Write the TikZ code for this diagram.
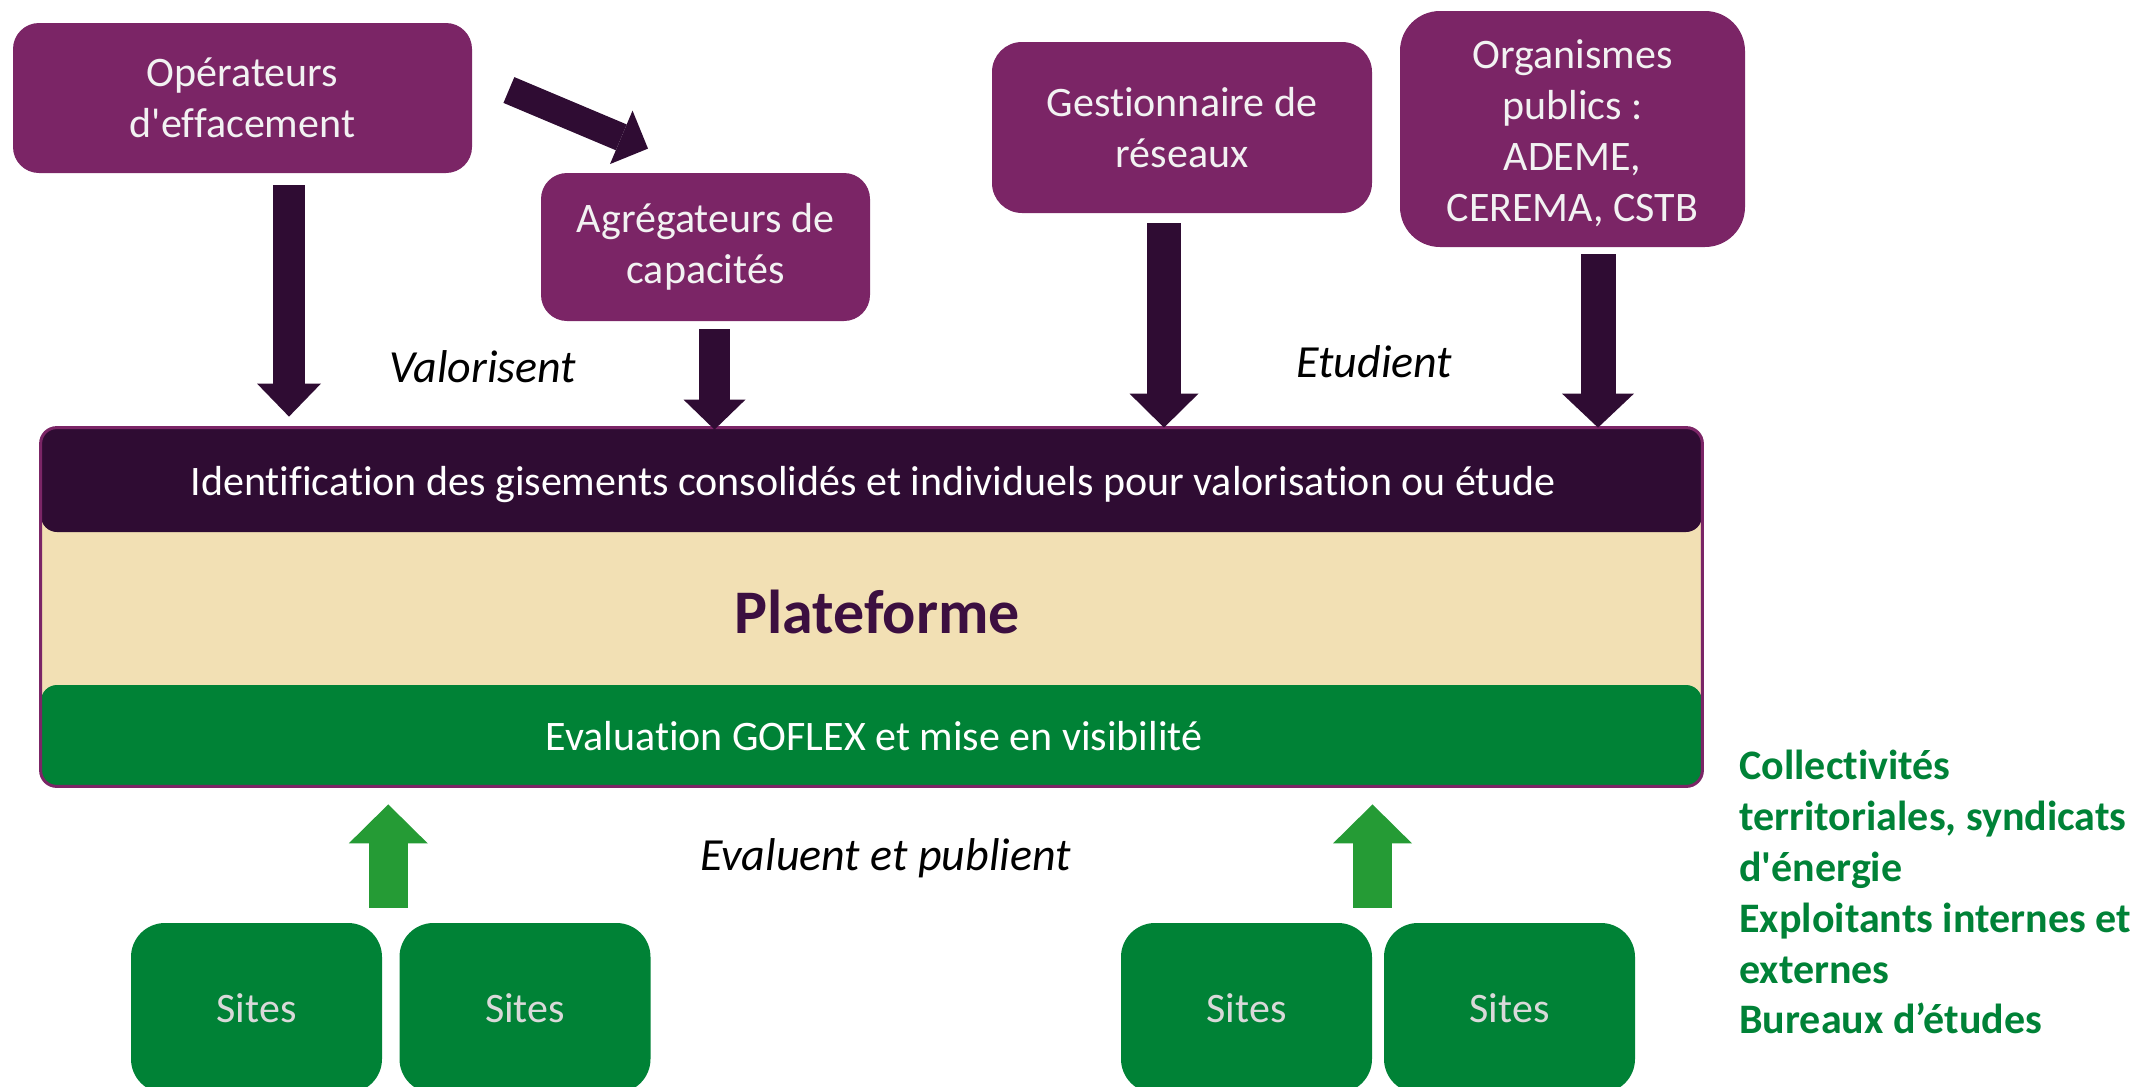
\documentclass[tikz,border=0pt]{standalone}
\usepackage{fontspec}
\newfontfamily\calib{Carlito}[Ligatures=NoCommon]
\usetikzlibrary{arrows.meta,calc}
\definecolor{plum}{RGB}{123,37,102}
\definecolor{darkp}{RGB}{47,12,51}
\definecolor{beige}{RGB}{242,224,180}
\definecolor{gbar}{RGB}{0,130,54}
\definecolor{garr}{RGB}{37,155,53}
\definecolor{gtext}{RGB}{0,130,55}
\definecolor{platc}{RGB}{60,15,64}
\definecolor{boxtext}{RGB}{242,242,242}
\definecolor{sitetext}{RGB}{217,217,217}
\begin{document}
\begin{tikzpicture}[x=0.5pt,y=-0.5pt,
  every node/.style={font=\calib},
  actor/.style={fill=plum, rounded corners=13pt, text=boxtext, align=center, inner sep=0pt,
    font=\calib\fontsize{21pt}{25.5pt}\selectfont},
  site/.style={fill=gbar, rounded corners=17pt, text=sitetext, minimum width=125.5pt,
    minimum height=85pt, inner sep=0pt, font=\calib\fontsize{21pt}{25.5pt}\selectfont},
  barbox/.style={rounded corners=8pt, minimum width=830.5pt, inner sep=0pt},
  bartext/.style={text=white, inner sep=0pt, anchor=base, font=\calib\fontsize{21pt}{25.5pt}\selectfont},
  verb/.style={inner sep=0pt, anchor=base, text=black, font=\calib\itshape\fontsize{23pt}{28pt}\selectfont},
  greenlist/.style={inner sep=0pt, anchor=base west, text=gtext, font=\calib\bfseries\fontsize{21pt}{25.5pt}\selectfont},
  darr/.style={draw=darkp, line width=16pt, -{Triangle[length=16.5pt,width=32pt,line width=0pt]}},
  garrow/.style={draw=garr, line width=19.5pt, -{Triangle[length=19.5pt,width=39.5pt,line width=0pt]}}
]
\useasboundingbox (0,0) rectangle (2144,1087);

% platform
\node[barbox, fill=beige, minimum height=179pt] (plat) at (871.5,607) {};
\node[barbox, fill=darkp, minimum height=52pt] (ident) at (871.5,480) {};
\node[barbox, fill=gbar, minimum height=50.5pt] (eval) at (871.5,735.5) {};
\draw[plum, line width=1.5pt, rounded corners=8pt] (plat.north west) rectangle (plat.south east);
\node[bartext] (identt) at (873,495) {Identification des gisements consolidés et individuels pour valorisation ou étude};
\node[inner sep=0pt, anchor=base, text=platc, font=\calib\bfseries\fontsize{31pt}{37pt}\selectfont] (platt) at (877,633) {Plateforme};
\node[bartext] (evalt) at (874,750) {Evaluation GOFLEX et mise en visibilité};

% actors
\node[actor, minimum width=229.5pt, minimum height=75pt] (op) at (242.5,98) {Opérateurs\\d'effacement};
\node[actor, minimum width=164.5pt, minimum height=74pt] (ag) at (705.5,247) {Agrégateurs de\\capacités};
\node[actor, minimum width=190pt, minimum height=85.5pt, rounded corners=15pt] (ge) at (1182,127.5) {Gestionnaire de\\réseaux};
\node[actor, minimum width=172.5pt, minimum height=118pt, rounded corners=20pt] (org) at (1572.5,129) {\rule{0pt}{18.5pt}Organismes\\publics :\\ADEME,\\CEREMA, CSTB};

% sites
\node[site] (s1) at (256.5,1008) {Sites};
\node[site] (s2) at (525,1008) {Sites};
\node[site] (s3) at (1246.5,1008) {Sites};
\node[site] (s4) at (1509.5,1008) {Sites};

% labels
\node[verb] (valo) at (483,382) {Valorisent};
\node[verb] (etud) at (1374.5,377) {Etudient};
\node[verb] (evpu) at (885.5,870) {Evaluent et publient};

% green list
\node[greenlist] (r1) at (1739,779) {Collectivités};
\node[greenlist] (r2) at (1739,830) {territoriales, syndicats};
\node[greenlist] (r3) at (1739,881) {d'énergie};
\node[greenlist] (r4) at (1739,932) {Exploitants internes et};
\node[greenlist] (r5) at (1739,983) {externes};
\node[greenlist] (r6) at (1739,1033) {Bureaux d’études};

% arrows down
\draw[darr] ($(op.south)+(46.5,12)$) coordinate (a1) -- ($(a1 |- ident.north)+(0,-11)$);
\draw[darr, line width=15.5pt, -{Triangle[length=15pt,width=31pt,line width=0pt]}] ($(ag.south)+(9,8)$) coordinate (a2) -- ($(a2 |- ident.north)+(0,2)$);
\draw[darr, line width=17pt, -{Triangle[length=17pt,width=34.5pt,line width=0pt]}] ($(ge.south)+(-18,10)$) coordinate (a3) -- (a3 |- ident.north);
\draw[darr, line width=17.5pt, -{Triangle[length=17pt,width=36pt,line width=0pt]}] ($(org.south)+(25.5,7)$) coordinate (a4) -- (a4 |- ident.north);
% diagonal arrow
\draw[darr, line width=14pt, -{Triangle[length=14.5pt,width=29pt,line width=0pt]}] ($(op.east)+(36.5,-8)$) -- ($(ag.north)+(-57.5,-24)$);

% arrows up
\draw[garrow] ($(s1.north east)!0.5!(s2.north west)+(-2.5,-15)$) coordinate (g1) -- ($(g1 |- eval.south)+(0,18)$);
\draw[garrow] ($(s3.north east)!0.5!(s4.north west)+(-5.5,-15)$) coordinate (g2) -- ($(g2 |- eval.south)+(0,18)$);
\end{tikzpicture}
\end{document}
